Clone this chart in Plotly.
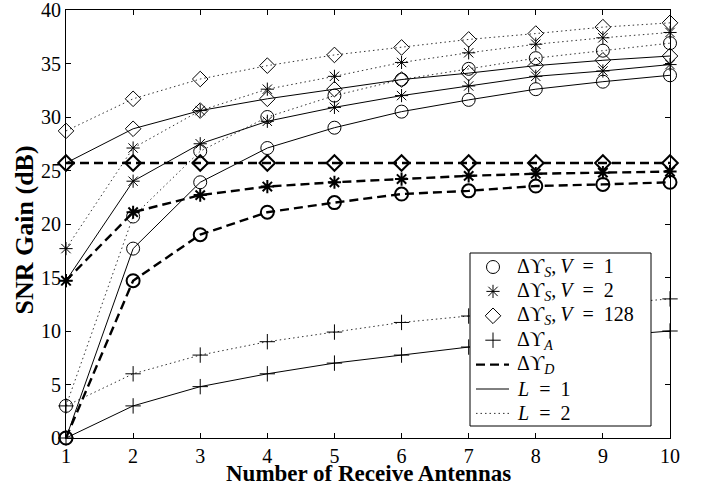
import plotly.graph_objects as go

antennas = [1, 2, 3, 4, 5, 6, 7, 8, 9, 10]

s_v1_l1 = [0, 17.7, 23.9, 27.1, 29.0, 30.5, 31.6, 32.6, 33.3, 33.9]
s_v2_l1 = [14.7, 24.0, 27.5, 29.6, 30.9, 32.0, 32.9, 33.8, 34.3, 34.9]
s_v128_l1 = [25.7, 28.9, 30.6, 31.7, 32.6, 33.5, 34.1, 34.8, 35.3, 35.7]
s_v1_l2 = [3.0, 20.7, 26.8, 30.0, 32.0, 33.5, 34.5, 35.5, 36.2, 36.9]
s_v2_l2 = [17.7, 27.1, 30.6, 32.6, 33.8, 35.1, 36.0, 36.8, 37.4, 37.9]
s_v128_l2 = [28.7, 31.7, 33.55, 34.8, 35.8, 36.5, 37.25, 37.8, 38.4, 38.8]
d_v1 = [0, 14.7, 19.0, 21.1, 22.0, 22.8, 23.1, 23.55, 23.7, 23.9]
d_v2 = [14.7, 21.1, 22.7, 23.5, 23.9, 24.2, 24.5, 24.7, 24.8, 24.9]
d_v128 = [25.7, 25.7, 25.7, 25.7, 25.7, 25.7, 25.7, 25.7, 25.7, 25.7]
a_l1 = [0, 3.0, 4.8, 6.0, 7.0, 7.75, 8.5, 9.0, 9.5, 10.0]
a_l2 = [3.0, 6.0, 7.75, 9.0, 9.9, 10.8, 11.4, 12.0, 12.5, 13.0]

y_ticks = [0, 5, 10, 15, 20, 25, 30, 35, 40]
x_title = "<b>Number of Receive Antennas</b>"
y_title = "<b>SNR Gain (dB)</b>"
SP = "\u2002"
TH = "\u2009"
legend_labels = [
    f"Δϒ<sub><i>S</i></sub>,{TH}<i>V</i>{SP}={SP}1",
    f"Δϒ<sub><i>S</i></sub>,{TH}<i>V</i>{SP}={SP}2",
    f"Δϒ<sub><i>S</i></sub>,{TH}<i>V</i>{SP}={SP}128",
    "Δϒ<sub><i>A</i></sub>",
    "Δϒ<sub><i>D</i></sub>",
    f"<i>L</i>{SP}={SP}1",
    f"<i>L</i>{SP}={SP}2",
]

FONT = "Liberation Serif"
DOT = "1.5px,3px"
DASH = "9px,5px"
DOTC = "#333333"

# plot-area geometry in pixels (for the hand-drawn legend)
PL, PR, PT, PB = 66, 670, 10, 438
def px(p):
    return (p - PL) / (PR - PL)
def py(p):
    return (PB - p) / (PB - PT)

sym = {"c": ("circle-open", 13), "s": ("asterisk-open", 11),
       "d": ("diamond-open", 12), "p": ("cross-thin-open", 11)}

fig = go.Figure()

def add(y, kind, dash, width, mlw, color="black"):
    s, sz = sym[kind]
    fig.add_trace(go.Scatter(
        x=antennas, y=y, mode="lines+markers", showlegend=False,
        cliponaxis=False,
        line=dict(color=color, width=width, dash=dash),
        marker=dict(symbol=s, size=sz, color="black",
                    line=dict(color="black", width=mlw)),
        hoverinfo="skip"))

# L = 2 (dotted)
add(s_v1_l2, "c", DOT, 1, 1, DOTC)
add(s_v2_l2, "s", DOT, 1, 1, DOTC)
add(s_v128_l2, "d", DOT, 1, 1, DOTC)
add(a_l2, "p", DOT, 1, 1, DOTC)
# L = 1 (solid)
add(s_v1_l1, "c", "solid", 1, 1)
add(s_v2_l1, "s", "solid", 1, 1)
add(s_v128_l1, "d", "solid", 1, 1)
add(a_l1, "p", "solid", 1, 1)
# Delta D (dashed)
add(d_v1, "c", DASH, 2.4, 2)
add(d_v2, "s", DASH, 2.4, 2)
add(d_v128, "d", DASH, 2.4, 2)

# ---- hand-drawn legend on an overlay axis (paper-like coords) ----
box_l, box_r, box_t, box_b = 470, 651, 253, 426
fig.add_trace(go.Scatter(
    x=[px(box_l), px(box_r), px(box_r), px(box_l), px(box_l)],
    y=[py(box_t), py(box_t), py(box_b), py(box_b), py(box_t)],
    xaxis="x2", yaxis="y2", mode="lines", fill="toself", fillcolor="white",
    line=dict(color="black", width=1), showlegend=False, hoverinfo="skip",
    cliponaxis=False))

row_y = [267, 291.4, 315.8, 340.2, 364.6, 389, 413.4]
mark_x, line_x0, line_x1, text_x = 493, 476, 509, 515
annotations = []
for i, lab in enumerate(legend_labels):
    yy = py(row_y[i])
    if i < 4:
        s, sz = sym[["c", "s", "d", "p"][i]]
        fig.add_trace(go.Scatter(
            x=[px(mark_x)], y=[yy], xaxis="x2", yaxis="y2", mode="markers",
            marker=dict(symbol=s, size=sz, color="black",
                        line=dict(color="black", width=1)),
            showlegend=False, hoverinfo="skip", cliponaxis=False))
    else:
        dash, w, c = [(DASH, 2.4, "black"), ("solid", 1, "black"),
                      (DOT, 1, DOTC)][i - 4]
        fig.add_trace(go.Scatter(
            x=[px(line_x0), px(line_x1)], y=[yy, yy], xaxis="x2", yaxis="y2",
            mode="lines", line=dict(color=c, width=w, dash=dash),
            showlegend=False, hoverinfo="skip", cliponaxis=False))
    annotations.append(dict(
        text=lab, xref="paper", yref="paper", x=px(text_x), y=yy,
        xanchor="left", yanchor="middle", showarrow=False,
        font=dict(family=FONT, size=20, color="black")))

axis_common = dict(
    showline=True, linecolor="black", linewidth=1, mirror="ticks",
    ticks="inside", ticklen=5, tickcolor="black", showgrid=False,
    zeroline=False, automargin=False, ticklabeloverflow="allow",
    tickfont=dict(family=FONT, size=20, color="black"),
)

annotations += [
    dict(text=x_title, xref="paper", yref="paper", x=0.5, y=-0.084,
         xanchor="center", yanchor="middle", showarrow=False,
         font=dict(family=FONT, size=23, color="black")),
    dict(text=y_title, xref="paper", yref="paper", x=-0.0695, y=0.485,
         xanchor="center", yanchor="middle", showarrow=False, textangle=-90,
         font=dict(family=FONT, size=26, color="black")),
]

fig.update_layout(
    width=707, height=487,
    margin=dict(l=PL, r=707 - PR, t=PT, b=487 - PB),
    paper_bgcolor="white", plot_bgcolor="white",
    font=dict(family=FONT, color="black"),
    showlegend=False,
    xaxis=dict(range=[1, 10], tickvals=antennas, **axis_common),
    yaxis=dict(range=[0, 40], tickvals=y_ticks, **axis_common),
    xaxis2=dict(overlaying="x", range=[0, 1], visible=False),
    yaxis2=dict(overlaying="y", range=[0, 1], visible=False),
    annotations=annotations,
)

fig.write_html("out.html", config={"displayModeBar": False},
               post_script="document.body.style.margin='0';document.body.style.overflow='hidden';")
